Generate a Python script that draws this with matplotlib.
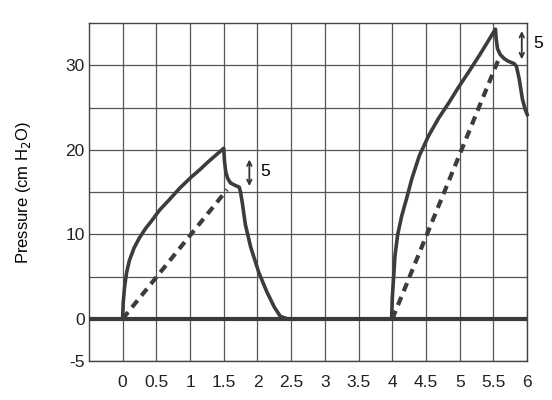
#!/usr/bin/env python3
import matplotlib
matplotlib.use("Agg")
import matplotlib.pyplot as plt

# breath 1: pressure rise, plateau drop, expiration
b1_t = [0.0, 0.01, 0.03, 0.06, 0.1, 0.17, 0.25, 0.34, 0.43, 0.55, 0.68, 0.85,
        1.02, 1.15, 1.27, 1.4, 1.5,
        1.51, 1.53, 1.56, 1.6, 1.67, 1.73, 1.75, 1.78, 1.82, 1.9, 2.02, 2.14,
        2.25, 2.34, 2.45]
b1_p = [0.0, 2.0, 3.8, 5.5, 6.9, 8.4, 9.6, 10.7, 11.6, 12.9, 14.0, 15.5,
        16.8, 17.7, 18.6, 19.5, 20.2,
        18.8, 17.4, 16.6, 16.1, 15.8, 15.6, 15.0, 13.5, 11.2, 8.5, 5.5, 3.2,
        1.4, 0.3, 0.0]
# breath 2
b2_t = [3.99, 4.0, 4.02, 4.04, 4.08, 4.14, 4.21, 4.29, 4.4, 4.54, 4.69, 4.84,
        4.98, 5.13, 5.3, 5.43, 5.53,
        5.54, 5.56, 5.6, 5.66, 5.72, 5.81, 5.84, 5.88, 5.93, 5.97, 6.0]
b2_p = [0.0, 2.5, 5.0, 7.5, 10.0, 12.2, 14.2, 16.6, 19.3, 21.7, 23.8, 25.6,
        27.4, 29.2, 31.3, 33.0, 34.3,
        33.2, 32.0, 31.3, 30.8, 30.5, 30.2, 29.9, 28.5, 26.0, 24.8, 24.2]
# dashed lines
d1_t = [0.0, 1.55]
d1_p = [0.0, 15.3]
d2_t = [4.0, 5.57]
d2_p = [0.0, 30.6]

xticks = [0, 0.5, 1, 1.5, 2, 2.5, 3, 3.5, 4, 4.5, 5, 5.5, 6]
xlabels = ["0", "0.5", "1", "1.5", "2", "2.5", "3", "3.5", "4", "4.5", "5", "5.5", "6"]
yticks = [-5, 0, 10, 20, 30]
ylabels = ["-5", "0", "10", "20", "30"]
ygrid = [5, 15, 25]


def main():
    plt.rcParams["font.family"] = ["Liberation Sans", "DejaVu Sans"]
    fig = plt.figure(figsize=(5.52, 4.0), dpi=100)
    ax = fig.add_axes([0.161, 0.097, 0.794, 0.845])

    ax.set_xlim(-0.5, 6.0)
    ax.set_ylim(-5, 35)
    ax.set_xticks(xticks)
    ax.set_xticklabels(xlabels)
    ax.set_yticks(yticks)
    ax.set_yticklabels(ylabels)
    ax.set_yticks(ygrid, minor=True)
    ax.grid(True, which="both", color="#555555", lw=0.9)
    ax.tick_params(which="both", length=0, labelsize=12.5, colors="#222222")
    ax.tick_params(axis="x", pad=10)
    ax.tick_params(axis="y", pad=3)
    for s in ax.spines.values():
        s.set_color("#444444")
        s.set_linewidth(1.0)

    ax.axhline(0, color="#3a3a3a", lw=3.0, zorder=3)

    col = "#3c3c3c"
    ax.plot(b1_t, b1_p, color=col, lw=2.6, zorder=4, solid_joinstyle="round")
    ax.plot(b2_t, b2_p, color=col, lw=2.6, zorder=4, solid_joinstyle="round", clip_on=False)
    ax.plot(d1_t, d1_p, color=col, lw=3.0, dashes=(2.1, 1.5), zorder=4)
    ax.plot(d2_t, d2_p, color=col, lw=3.0, dashes=(2.1, 1.5), zorder=4)

    arrow = dict(arrowstyle="<->", color="#333333", lw=1.3, mutation_scale=8)
    ax.annotate("", xy=(1.88, 19.2), xytext=(1.88, 15.4), arrowprops=arrow)
    ax.text(2.04, 17.4, "5", fontsize=12.5, va="center", ha="left")
    ax.annotate("", xy=(5.92, 34.4), xytext=(5.92, 30.4), arrowprops=arrow,
                annotation_clip=False)
    ax.text(6.09, 32.6, "5", fontsize=12.5, va="center", ha="left", clip_on=False)

    ax.set_ylabel("Pressure (cm H$_2$O)", fontsize=12)
    ax.yaxis.set_label_coords(-0.128, 0.5)

    fig.savefig("out.png", dpi=100)


if __name__ == "__main__":
    main()
